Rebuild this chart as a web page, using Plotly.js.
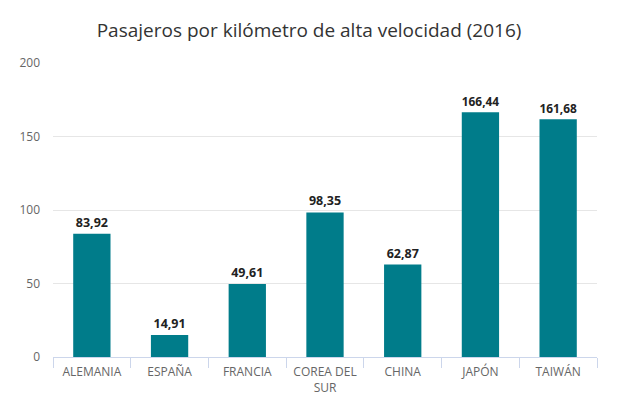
<!DOCTYPE html>
<html>
<head>
<meta charset="utf-8">
<script src="https://cdn.plot.ly/plotly-3.0.1.min.js"></script>
<style>html,body{margin:0;padding:0;background:#fff;}#chart{width:618px;height:399px;}</style>
</head>
<body>
<div id="chart"></div>
<script>
const categories = ["ALEMANIA", "ESPAÑA", "FRANCIA", "COREA DEL<br>SUR", "CHINA", "JAPÓN", "TAIWÁN"];
const values = [83.92, 14.91, 49.61, 98.35, 62.87, 166.44, 161.68];
const yTicks = [0, 50, 100, 150, 200];

const trace = {
  type: 'bar',
  x: categories,
  y: values,
  marker: {color: '#007c8a'},
  texttemplate: '<b>%{y:.2f}</b>',
  textposition: 'outside',
  cliponaxis: false,
  textfont: {family: 'Open Sans, sans-serif', size: 12.5, color: '#222'},
  hoverinfo: 'x+y'
};

const layout = {
  width: 618, height: 399,
  margin: {l: 53, r: 21, t: 63, b: 42},
  paper_bgcolor: '#ffffff',
  plot_bgcolor: '#ffffff',
  separators: ',.',
  bargap: 0.52,
  showlegend: false,
  title: {
    text: 'Pasajeros por kilómetro de alta velocidad (2016)',
    font: {family: 'Open Sans, sans-serif', size: 19, color: '#333'},
    x: 0.5, xanchor: 'center', y: 0.925, yanchor: 'middle'
  },
  xaxis: {
    type: 'category',
    showline: true, linecolor: '#ccd6eb', linewidth: 1,
    ticks: 'outside', tickson: 'boundaries', ticklen: 10, tickcolor: '#ccd6eb',
    ticklabelstandoff: 4,
    tickfont: {family: 'Open Sans, sans-serif', size: 12, color: '#666'},
    showgrid: false, zeroline: false
  },
  yaxis: {
    range: [0, 200],
    tickvals: yTicks,
    showgrid: true, gridcolor: '#e6e6e6', gridwidth: 1,
    zeroline: false, showline: false,
    ticks: '', ticklabelstandoff: 12,
    tickfont: {family: 'Open Sans, sans-serif', size: 12, color: '#666'}
  }
};

Plotly.newPlot('chart', [trace], layout, {displayModeBar: false, staticPlot: true});
</script>
</body>
</html>
